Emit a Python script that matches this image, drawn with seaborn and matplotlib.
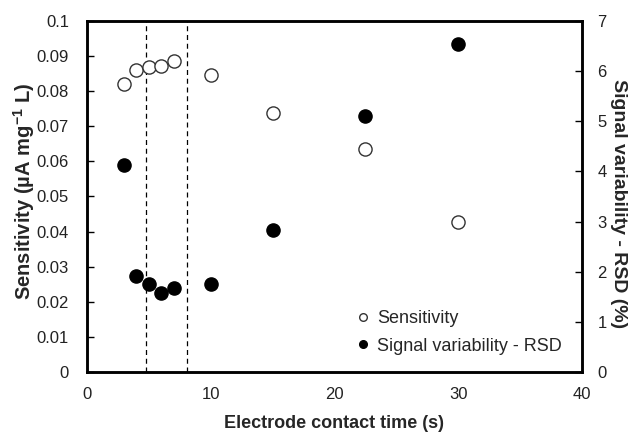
import matplotlib
matplotlib.use("Agg")
import matplotlib.pyplot as plt
import seaborn as sns
import pandas as pd
from matplotlib.lines import Line2D

sns.set_style("white")
plt.rcParams['font.family'] = ['Liberation Sans', 'DejaVu Sans']
plt.rcParams['mathtext.fontset'] = 'custom'
plt.rcParams['mathtext.rm'] = 'Liberation Sans'
plt.rcParams['mathtext.bf'] = 'Liberation Sans:bold'

# data
contact_time = [3, 4, 5, 6, 7, 10, 15, 22.5, 30]
sensitivity = [0.0821, 0.0860, 0.0870, 0.0872, 0.0885, 0.0847, 0.0739, 0.0634, 0.0427]
rsd = [4.13, 1.91, 1.75, 1.58, 1.68, 1.75, 2.83, 5.11, 6.54]
dashed_x = [4.8, 8.1]
x_ticks = [0, 10, 20, 30, 40]
left_ticks = [0, 0.01, 0.02, 0.03, 0.04, 0.05, 0.06, 0.07, 0.08, 0.09, 0.1]
left_labels = ["0", "0.01", "0.02", "0.03", "0.04", "0.05", "0.06", "0.07", "0.08", "0.09", "0.1"]
right_ticks = [0, 1, 2, 3, 4, 5, 6, 7]

df = pd.DataFrame({"t": contact_time, "sens": sensitivity, "rsd": rsd})

fig = plt.figure(figsize=(6.34, 4.32), dpi=100)
ax = fig.add_axes([0.1372, 0.1389, 0.7808, 0.8125])
ax2 = ax.twinx()

for xv in dashed_x:
    ax.axvline(xv, color="black", linestyle=(0, (4, 3)), linewidth=0.9, zorder=1)

sns.scatterplot(data=df, x="t", y="sens", ax=ax, s=90, facecolor="white",
                edgecolor="#333333", linewidth=1.0, zorder=3, legend=False)
sns.scatterplot(data=df, x="t", y="rsd", ax=ax2, s=90, color="black",
                edgecolor="black", linewidth=1.0, zorder=3, legend=False)

ax.set_xlim(0, 40)
ax.set_ylim(0, 0.1)
ax2.set_ylim(0, 7)
ax.set_xticks(x_ticks)
ax.set_yticks(left_ticks)
ax.set_yticklabels(left_labels)
ax2.set_yticks(right_ticks)

for a in (ax, ax2):
    for sp in a.spines.values():
        sp.set_color("black")
        sp.set_linewidth(1.8)
    a.tick_params(direction="in", length=5, width=1, labelsize=12, colors="black",
                  labelcolor="#222222")
ax.tick_params(axis="x", pad=11)
ax.tick_params(axis="y", pad=13)
ax2.tick_params(axis="y", pad=11)

ax.set_xlabel("Electrode contact time (s)", fontsize=13, fontweight="bold", labelpad=9)
ax.set_ylabel(r"Sensitivity (µA mg$^{\mathbf{-1}}$ L)", fontsize=14.5, fontweight="bold")
ax.yaxis.set_label_coords(-0.128, 0.515)
ax.yaxis.label.set_verticalalignment("center")
ax2.set_ylabel("Signal variability - RSD (%)", fontsize=14, fontweight="bold",
               rotation=270)
ax2.yaxis.set_label_coords(1.074, 0.48)
ax2.yaxis.label.set_verticalalignment("center")
ax2.yaxis.label.set_horizontalalignment("center")
ax.grid(False)
ax2.grid(False)

handles = [
    Line2D([], [], marker="o", linestyle="none", markerfacecolor="white",
           markeredgecolor="#333333", markersize=5.5, label="Sensitivity"),
    Line2D([], [], marker="o", linestyle="none", markerfacecolor="black",
           markeredgecolor="black", markersize=5.5, label="Signal variability - RSD"),
]
ax2.legend(handles=handles, loc="lower right", bbox_to_anchor=(0.985, 0.013),
           frameon=False, fontsize=13, handletextpad=-0.2, labelspacing=0.6,
           borderaxespad=0.3)

fig.savefig("out.png", dpi=100)
